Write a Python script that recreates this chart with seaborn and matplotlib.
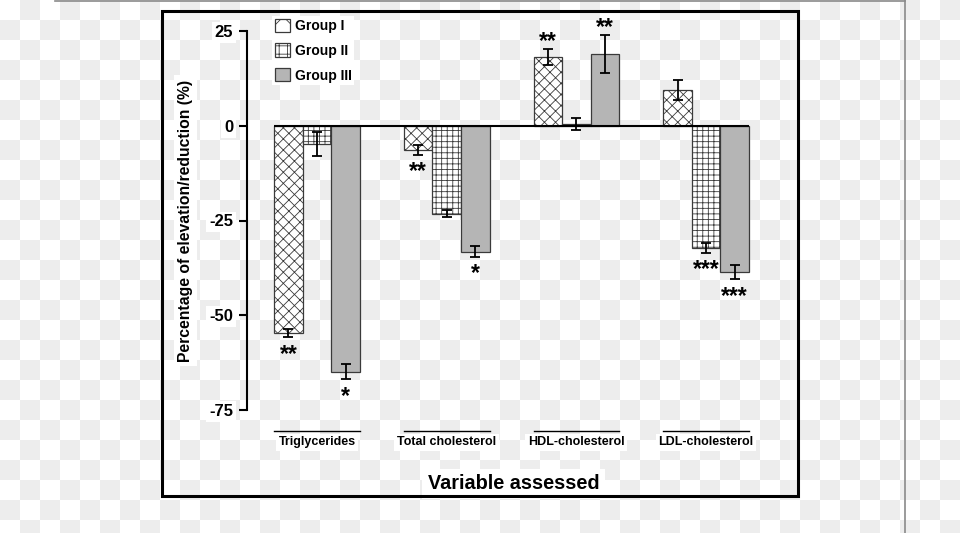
import numpy as np
import pandas as pd
import seaborn as sns
import matplotlib.pyplot as plt
import matplotlib.transforms as mtransforms
from matplotlib.lines import Line2D
from matplotlib.patches import Rectangle, Patch

# data
categories = ["Triglycerides", "Total cholesterol", "HDL-cholesterol", "LDL-cholesterol"]
groups = ["Group I", "Group II", "Group III"]
group1 = [-54.7, -6.3, 18.1, 9.5]
group2 = [-4.8, -23.2, 0.5, -32.2]
group3 = [-64.9, -33.2, 18.9, -38.6]
err1 = [1.1, 1.3, 2.1, 2.6]
err2 = [3.2, 1.0, 1.6, 1.3]
err3 = [2.0, 1.4, 5.0, 1.9]
stars1 = ["**", "**", "**", ""]
stars2 = ["", "", "", "***"]
stars3 = ["*", "*", "**", "***"]
yticks = [25, 0, -25, -50, -75]

values = [group1, group2, group3]
errors = [err1, err2, err3]
stars = [stars1, stars2, stars3]

df = pd.DataFrame({
    "variable": categories * 3,
    "group": [g for g in groups for _ in categories],
    "value": group1 + group2 + group3,
})

plt.rcParams["font.family"] = ["Liberation Sans", "DejaVu Sans"]
plt.rcParams["font.weight"] = "bold"
plt.rcParams["hatch.linewidth"] = 0.6

W, H = 960, 533
fig = plt.figure(figsize=(W / 100, H / 100), dpi=100)
fig.patch.set_facecolor("white")

# transparent-looking checker background
yy, xx = np.mgrid[0:H, 0:W]
board = np.where(((yy // 20) + (xx // 20)) % 2 == 1, 0.93, 1.0)
fig.figimage(np.dstack([board] * 3), 0, 0, origin="upper", zorder=0)

fig.add_artist(Line2D([55 / W, 905 / W], [1 - 0.8 / H] * 2, transform=fig.transFigure,
                      color="#8a8a8a", lw=1.2))
fig.add_artist(Line2D([904.5 / W] * 2, [0, 1], transform=fig.transFigure,
                      color="#8a8a8a", lw=1.2))
fig.add_artist(Rectangle((162 / W, 1 - 496 / H), (798 - 162) / W, (496 - 11) / H,
                         transform=fig.transFigure, fill=False, lw=2.2, ec="black", zorder=3))

ax = fig.add_axes([247 / W, 1 - 410 / H, (780 - 247) / W, (410 - 31) / H])
ax.set_zorder(2)
ax.patch.set_alpha(0)

sns.barplot(data=df, x="variable", y="value", hue="group", order=categories,
            hue_order=groups, errorbar=None, width=0.66, legend=False, ax=ax)
bar_conts = list(ax.containers)

fills = ["white", "white", "#b5b5b5"]
hatches = ["xxx", "+++", None]
for cont, fc, ht in zip(bar_conts, fills, hatches):
    for bar in cont:
        bar.set_facecolor(fc)
        bar.set_edgecolor("#3a3a3a")
        bar.set_linewidth(0.9)
        bar.set_hatch(ht)

# error bars and significance marks
for cont, vals, errs, st in zip(bar_conts, values, errors, stars):
    bars = sorted(cont, key=lambda b: b.get_x())
    xs = [b.get_x() + b.get_width() / 2 for b in bars]
    ax.errorbar(xs, vals, yerr=errs, fmt="none", ecolor="black", elinewidth=1.3,
                capsize=3.8, capthick=1.3, zorder=4)
    for x, v, e, s in zip(xs, vals, errs, st):
        if not s:
            continue
        if v < 0:
            ax.annotate(s, (x, v - e), xytext=(0, -4), textcoords="offset points",
                        ha="center", va="top", fontsize=16.5, fontweight="bold")
        else:
            ax.annotate(s, (x, v + e), xytext=(0, 0.5), textcoords="offset points",
                        ha="center", va="baseline", fontsize=16.5, fontweight="bold")

all_bars = [b for c in bar_conts for b in c]
left = min(b.get_x() for b in all_bars)
right = max(b.get_x() + b.get_width() for b in all_bars)
ax.hlines(0, left, right, color="black", lw=1.5, zorder=3)

# lines over the category labels
trans = mtransforms.blended_transform_factory(ax.transData, ax.transAxes)
for j in range(len(categories)):
    cat_bars = [sorted(c, key=lambda b: b.get_x())[j] for c in bar_conts]
    l = min(b.get_x() for b in cat_bars)
    r = max(b.get_x() + b.get_width() for b in cat_bars)
    ax.plot([l, r], [-0.055, -0.055], transform=trans, clip_on=False, color="black", lw=1)

ax.set_xlim(-0.54, 3.57)
ax.set_ylim(-75, 25)
ax.set_yticks(yticks)
ax.set_yticklabels([str(t) for t in yticks], fontsize=12, fontweight="bold")
ax.tick_params(axis="y", length=6, width=1.5, pad=4, direction="out")
ax.tick_params(axis="x", length=0, pad=19)
ax.set_xticks(range(len(categories)))
ax.set_xticklabels(categories, fontsize=9, fontweight="bold")
for sp in ["top", "right", "bottom"]:
    ax.spines[sp].set_visible(False)
ax.spines["left"].set_linewidth(1.5)
ax.spines["left"].set_color("black")

for t in ax.get_yticklabels() + ax.get_xticklabels():
    t.set_bbox(dict(facecolor="white", edgecolor="none", pad=2))

ax.set_ylabel("Percentage of elevation/reduction (%)", fontsize=11.3, fontweight="bold",
              bbox=dict(facecolor="white", edgecolor="none", pad=3))
ax.yaxis.set_label_coords(-0.101, 0.5)
ax.set_xlabel("Variable assessed", fontsize=14.3, fontweight="bold",
              bbox=dict(facecolor="white", edgecolor="none", pad=4))
ax.xaxis.set_label_coords(0.5, -0.17)

# legend swatches use a coarser hatch, as in the original
handles = [Patch(facecolor=fc, edgecolor="#3a3a3a", lw=0.9, hatch=h)
           for fc, h in zip(fills, ["x", "++", None])]
leg = ax.legend(handles, groups, loc="upper left",
                bbox_to_anchor=(272 / W, 1 - 16 / H), bbox_transform=fig.transFigure,
                fontsize=10, handlelength=1.08, handleheight=1.08, handletextpad=0.35,
                labelspacing=0.75, borderpad=0.2, borderaxespad=0, frameon=True,
                fancybox=False)
leg.get_frame().set_facecolor("white")
leg.get_frame().set_edgecolor("none")
leg.get_frame().set_alpha(1)
for t in leg.get_texts():
    t.set_fontweight("bold")

fig.savefig("out.png", dpi=100)
